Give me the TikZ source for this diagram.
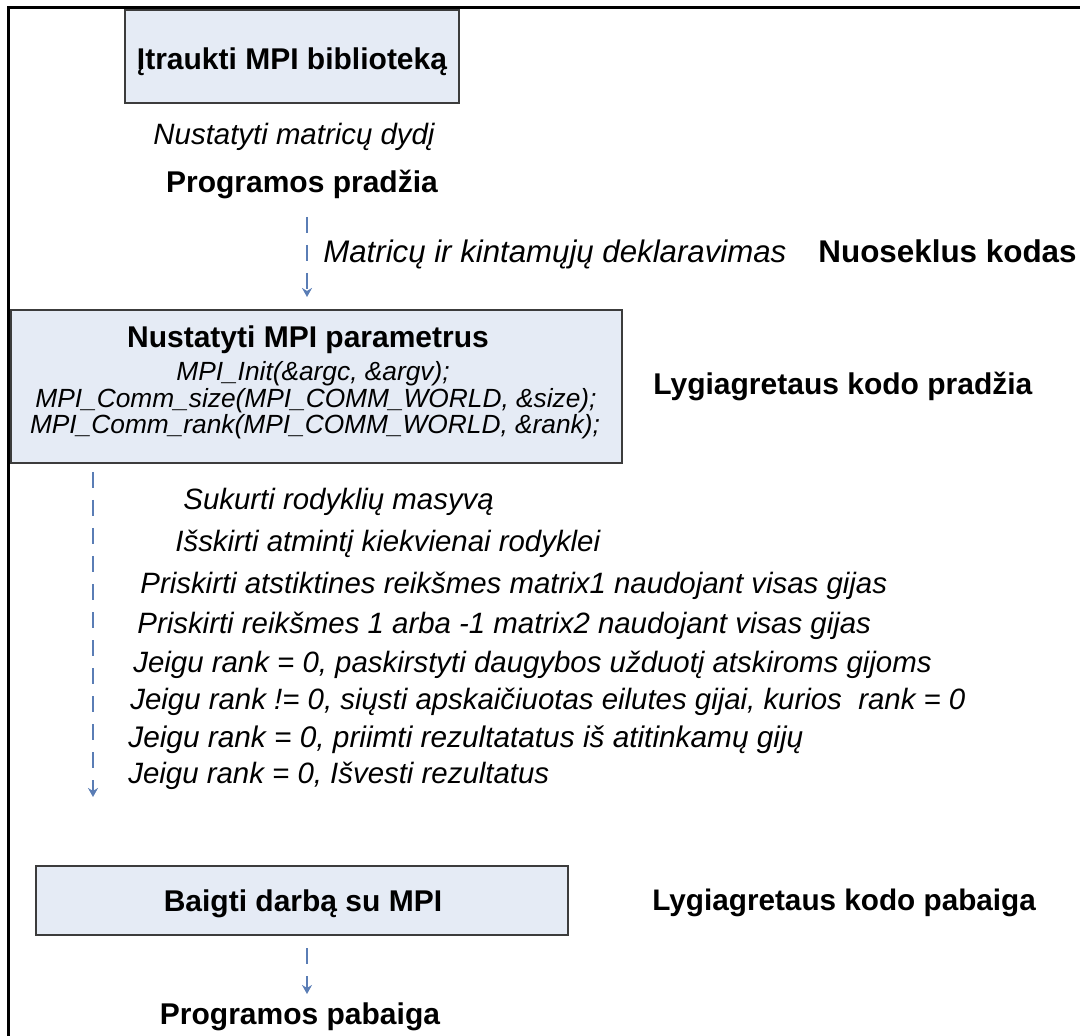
\documentclass[tikz,border=0pt]{standalone}
\usepackage{fontspec}
\setmainfont{Liberation Sans}
\usetikzlibrary{arrows.meta}
\definecolor{boxfill}{HTML}{E5EBF5}
\definecolor{boxline}{HTML}{3C3C3C}
\definecolor{arrowblue}{HTML}{5A7DB5}
\tikzset{
  boxstyle/.style={draw=boxline, line width=1pt, fill=boxfill, inner sep=0pt},
  boldtxt/.style={inner sep=0pt, font=\fontsize{15}{18}\selectfont\bfseries},
  ittxt/.style={inner sep=0pt, font=\fontsize{14.7}{18}\selectfont\itshape},
  codetxt/.style={inner sep=0pt, font=\fontsize{13.15}{15}\selectfont\itshape},
  flowarrow/.style={draw=arrowblue, line width=0.9pt, dash pattern=on 8pt off 6pt,
    -{Stealth[length=4.5pt,width=5pt]}},
  framestyle/.style={draw=black, line width=1.5pt}
}
\begin{document}
\begin{tikzpicture}[x=0.5pt,y=-0.5pt]
\useasboundingbox (0,0) rectangle (1080,1036);
% outer frame (right and bottom edges lie outside the picture)
\draw[framestyle] (8.5,1036) -- (8.5,7.5) -- (1080,7.5);

% box 1
\node[boxstyle, minimum width=167pt, minimum height=46.5pt] (box1) at (292,56.5) {};
\node[boldtxt, anchor=base] (t1) at (292,70) {Įtraukti MPI biblioteką};

\node[ittxt, anchor=base] (size) at (294,145) {Nustatyti matricų dydį};
\node[boldtxt, anchor=base] (pstart) at (302,193) {Programos pradžia};

% arrow 1
\coordinate (a1s) at (307,217);
\coordinate (a1e) at (307,297);
\draw[flowarrow] (a1s) -- (a1e);
\node[ittxt, anchor=base west, font=\fontsize{15.6}{18}\selectfont\itshape] (decl) at (323,263) {Matricų ir kintamųjų deklaravimas};
\node[boldtxt, anchor=base west, font=\fontsize{15.7}{18}\selectfont\bfseries] (seq) at (818,263) {Nuoseklus kodas};

% box 2
\node[boxstyle, minimum width=305.5pt, minimum height=76.5pt] (box2) at (316.5,386.5) {};
\node[boldtxt, anchor=base] (t2) at (308,348) {Nustatyti MPI parametrus};
\node[codetxt, anchor=base] (c1) at (313,381) {MPI\_Init(\&argc, \&argv);};
\node[codetxt, anchor=base] (c2) at (316,408) {MPI\_Comm\_size(MPI\_COMM\_WORLD, \&size);};
\node[codetxt, anchor=base] (c3) at (315,434) {MPI\_Comm\_rank(MPI\_COMM\_WORLD, \&rank);};
\node[boldtxt, anchor=base west] (pbeg) at (653,395) {Lygiagretaus kodo pradžia};

% arrow 2
\coordinate (a2s) at (93,472);
\coordinate (a2e) at (93,797);
\draw[flowarrow] (a2s) -- (a2e);

\node[ittxt, anchor=base west] (l1) at (183,510) {Sukurti rodyklių masyvą};
\node[ittxt, anchor=base west] (l2) at (175,552) {Išskirti atmintį kiekvienai rodyklei};
\node[ittxt, anchor=base west] (l3) at (140,593) {Priskirti atstiktines reikšmes matrix1 naudojant visas gijas};
\node[ittxt, anchor=base west] (l4) at (137,633) {Priskirti reikšmes 1 arba -1 matrix2 naudojant visas gijas};
\node[ittxt, anchor=base west] (l5) at (133,672) {Jeigu rank = 0, paskirstyti daugybos užduotį atskiroms gijoms};
\node[ittxt, anchor=base west] (l6) at (130,709) {Jeigu rank != 0, siųsti apskaičiuotas eilutes gijai, kurios\ \ rank = 0};
\node[ittxt, anchor=base west, font=\fontsize{14.9}{18}\selectfont\itshape] (l7) at (128,747) {Jeigu rank = 0, priimti rezultatatus iš atitinkamų gijų};
\node[ittxt, anchor=base west] (l8) at (128,783) {Jeigu rank = 0, Išvesti rezultatus};

% box 3
\node[boxstyle, minimum width=266pt, minimum height=34.5pt] (box3) at (302,900.5) {};
\node[boldtxt, anchor=base] (t3) at (303,911) {Baigti darbą su MPI};
\node[boldtxt, anchor=base west, font=\fontsize{14.85}{18}\selectfont\bfseries] (pend) at (652,910) {Lygiagretaus kodo pabaiga};

% arrow 3
\coordinate (a3s) at (307,948);
\coordinate (a3e) at (307,994);
\draw[flowarrow] (a3s) -- (a3e);
\node[boldtxt, anchor=base] (pfin) at (300,1024) {Programos pabaiga};
\end{tikzpicture}
\end{document}
